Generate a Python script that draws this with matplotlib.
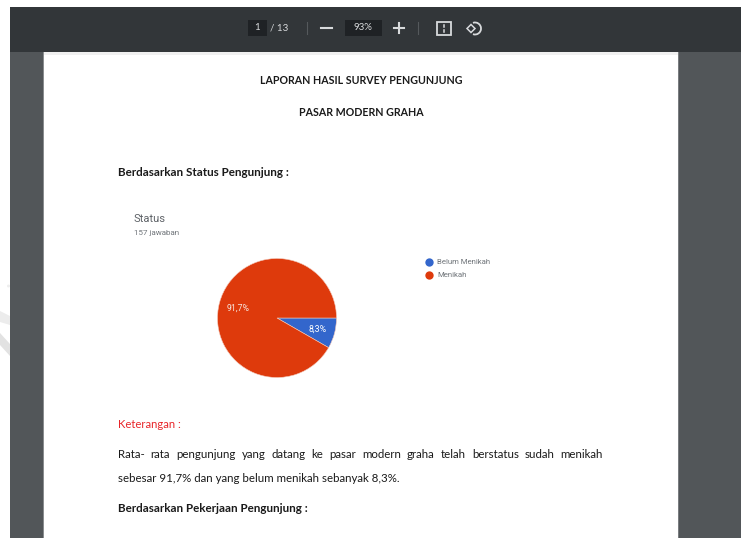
import matplotlib
matplotlib.use('Agg')
import matplotlib.pyplot as plt
from matplotlib.patches import Rectangle, Polygon, Circle, Arc

W, H = 741, 538

labels = ['Belum Menikah', 'Menikah']
shares = [8.3, 91.7]
share_labels = ['8,3%', '91,7%']
colors = ['#3366cc', '#de3a0c']

title_lines = ['LAPORAN HASIL SURVEY PENGUNJUNG', 'PASAR MODERN GRAHA']
line_one = 'Rata- rata pengunjung yang datang ke pasar modern graha telah berstatus sudah menikah'
line_two = 'sebesar 91,7% dan yang belum menikah sebanyak 8,3%.'

plt.rcParams['font.family'] = ['Lato', 'DejaVu Sans']

fig = plt.figure(figsize=(W / 100, H / 100), dpi=100, facecolor='white')
bg = fig.add_axes([0, 0, 1, 1])
bg.set_xlim(0, W)
bg.set_ylim(H, 0)
bg.axis('off')


def box(x0, y0, x1, y1, color, z=1):
    bg.add_patch(Rectangle((x0, y0), x1 - x0, y1 - y0, fc=color, ec='none', zorder=z))


def text(x, y, s, size, color='#1a1a1a', weight='normal', ha='left', **kw):
    return bg.text(x, y, s, fontsize=size, color=color, fontweight=weight,
                   ha=ha, va='center', zorder=6, **kw)


# stamp showing at the left edge, outside the viewer
bg.add_patch(Polygon([(0, 311), (10, 316), (10, 325), (0, 322)], fc='#ececec', ec='none'))
bg.add_patch(Polygon([(0, 333), (10, 344), (10, 356), (0, 345)], fc='#e2e2e2', ec='none'))
bg.add_patch(Circle((8.5, 286), 1.5, fc='#eeeeee', ec='none'))

# viewer window
box(10, 7, W, H, '#525659')
box(10, 7, W, 52, '#323639', 2)
box(43, 52, 44, H, '#8a8d8f', 2)
box(678, 52, 679, H, '#7a7d80', 2)
box(44, 52, 678, H, 'white', 3)
box(44, 52, 678, 55, '#f0f0f0', 3)

# toolbar
tool = '#d8dadc'
box(248, 20, 267, 36, '#1f2225', 4)
box(345, 20, 382, 36, '#1f2225', 4)
text(257, 28, '1', 7, tool, ha='center')
text(270, 28, '/ 13', 7, tool)
text(363, 28, '93%', 7, tool, ha='center')
bg.plot([321, 332], [28, 28], color=tool, lw=1.5, zorder=5)
bg.plot([394, 404], [28, 28], color=tool, lw=1.5, zorder=5)
bg.plot([399, 399], [23, 33], color=tool, lw=1.5, zorder=5)
bg.plot([307, 307], [22, 34], color='#55595c', lw=0.8, zorder=5)
bg.plot([418, 418], [22, 34], color='#55595c', lw=0.8, zorder=5)
# fit-to-page icon
bg.add_patch(Rectangle((437, 22), 14, 13, fc='none', ec=tool, lw=1.3, zorder=5))
bg.plot([444, 444], [25, 27], color=tool, lw=1.1, zorder=5)
bg.plot([444, 444], [30, 32], color=tool, lw=1.1, zorder=5)
# rotate icon
bg.add_patch(Arc((475, 28.5), 12, 12, theta1=-110, theta2=110, ec=tool, lw=1.3, zorder=5))
bg.add_patch(Polygon([(467, 28.5), (471, 24.5), (475, 28.5), (471, 32.5)], fc='none', ec=tool,
                     lw=1.1, zorder=5))

# document text
text(361, 80, title_lines[0], 7.65, weight='bold', ha='center')
text(361, 113, title_lines[1], 7.65, weight='bold', ha='center')
text(118, 173, 'Berdasarkan Status Pengunjung :', 8.4, weight='bold')
text(134, 219, 'Status', 8, '#5f6368', family='Roboto')
text(134, 233, '157 jawaban', 5.8, '#70757a', family='Roboto')
text(118, 424, 'Keterangan :', 8.1, '#e8262a')
text(118, 478, line_two, 8.3)
text(118, 509, 'Berdasarkan Pekerjaan Pengunjung :', 8.4, weight='bold')

# first paragraph line is justified, so place it word by word
words = line_one.split()
renderer = fig.canvas.get_renderer()
items = [text(0, 455, w, 8.3) for w in words]
widths = [t.get_window_extent(renderer).width for t in items]
gap = (603 - 118 - sum(widths)) / (len(words) - 1)
pos = 118
for t, w in zip(items, widths):
    t.set_x(pos)
    pos += w + gap

# pie
r = 59.5
cx, cy = 277, 318
ax = fig.add_axes([(cx - r) / W, 1 - (cy + r) / H, 2 * r / W, 2 * r / H], zorder=5)
wedges, _ = ax.pie(shares, colors=colors, startangle=0, counterclock=False, radius=1,
                   wedgeprops={'edgecolor': '#f3c9bb', 'linewidth': 0.4})
ax.set_xlim(-1, 1)
ax.set_ylim(-1, 1)
ax.text(0.68, -0.18, share_labels[0], color='white', fontsize=6.3, ha='center', va='center',
        family='Roboto')
ax.text(-0.66, 0.17, share_labels[1], color='#f7e4dc', fontsize=6.3, ha='center', va='center',
        family='Roboto')

# legend
for i, (lab, col) in enumerate(zip(labels, colors)):
    y = 262 + i * 13
    bg.plot([429], [y], 'o', ms=6, color=col, mec='none', zorder=5)
    text(437, y, lab, 5.6, '#70757a', family='Roboto')

fig.savefig('out.png', dpi=100)
